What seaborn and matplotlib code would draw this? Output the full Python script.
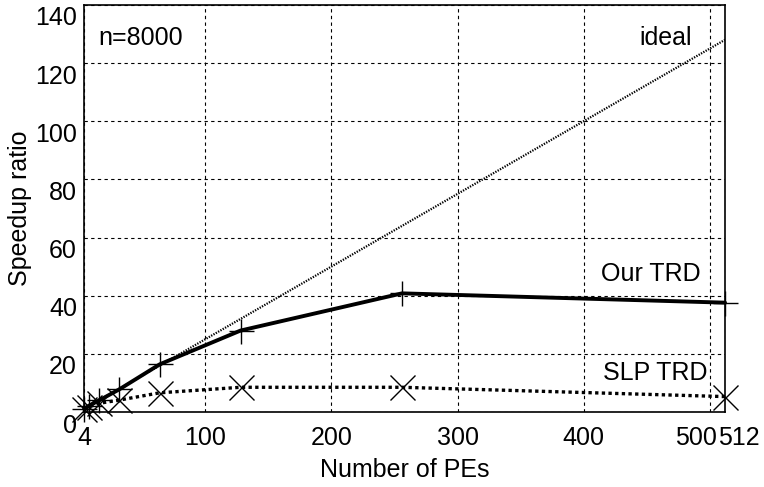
import numpy as np
import pandas as pd
import matplotlib
matplotlib.use("Agg")
import matplotlib.pyplot as plt
import matplotlib.transforms as mtransforms
import seaborn as sns

# data
pes = [4, 8, 16, 32, 64, 128, 256, 512]
our_trd = [1.0, 2.2, 4.0, 7.8, 16.4, 28.0, 40.8, 37.6]
slp_trd = [1.0, 1.8, 3.0, 4.1, 6.6, 8.5, 8.5, 5.3]
ideal_x = [4, 512]
ideal_y = [1, 128]
xticks = [4, 100, 200, 300, 400, 500, 512]
yticks = [0, 20, 40, 60, 80, 100, 120, 140]

sns.set_style("white", {"text.color": "black", "axes.labelcolor": "black",
                        "xtick.color": "black", "ytick.color": "black"})
plt.rcParams['font.family'] = ['Liberation Sans', 'DejaVu Sans']
fs = 18

df_our = pd.DataFrame({"PEs": pes, "speedup": our_trd})
df_slp = pd.DataFrame({"PEs": pes, "speedup": slp_trd})
df_ideal = pd.DataFrame({"PEs": ideal_x, "speedup": ideal_y})

fig = plt.figure(figsize=(7.64, 4.87), dpi=100)
ax = fig.add_axes([0.110, 0.154, 0.839, 0.836])

sns.lineplot(data=df_ideal, x="PEs", y="speedup", ax=ax, color="black",
             linewidth=1.6, linestyle=(0, (0.6, 0.6)))
sns.lineplot(data=df_slp, x="PEs", y="speedup", ax=ax, color="black",
             linewidth=2.4, linestyle=(0, (1, 1)), marker="x",
             markersize=18, markeredgewidth=1, markeredgecolor="black",
             clip_on=False)
sns.lineplot(data=df_our, x="PEs", y="speedup", ax=ax, color="black",
             linewidth=2.8, marker="+", markersize=18, markeredgewidth=1,
             markeredgecolor="black", clip_on=False)

ax.set_xlim(4, 512)
ax.set_ylim(0, 140)
ax.set_xticks(xticks)
ax.set_xticklabels([str(t) for t in xticks])
ax.set_yticks(yticks)
ax.grid(True, color="black", linestyle=(0, (3, 3)), linewidth=0.8)
ax.tick_params(direction="in", length=5, width=1, labelsize=fs,
               colors="black")
ax.tick_params(axis="x", pad=10)
ax.tick_params(axis="y", pad=5)
for s in ax.spines.values():
    s.set_linewidth(1.2)
    s.set_color("black")

# y labels sit a bit below their grid lines, 500/512 pushed apart
down = mtransforms.ScaledTranslation(0, -0.11, fig.dpi_scale_trans)
for lab in ax.get_yticklabels():
    lab.set_transform(lab.get_transform() + down)
xl = ax.get_xticklabels()
xl[5].set_ha("right")
xl[5].set_transform(xl[5].get_transform() + mtransforms.ScaledTranslation(0.07, 0, fig.dpi_scale_trans))
xl[6].set_ha("left")
xl[6].set_transform(xl[6].get_transform() + mtransforms.ScaledTranslation(-0.07, 0, fig.dpi_scale_trans))

ax.set_xlabel("Number of PEs", fontsize=fs, labelpad=6, color="black")
ax.set_ylabel("Speedup ratio", fontsize=fs, labelpad=2, color="black")

ax.text(15, 128.5, "n=8000", fontsize=fs, va="center", ha="left", color="black")
ax.text(486, 128.5, "ideal", fontsize=fs, va="center", ha="right", color="black")
ax.text(493, 47.4, "Our TRD", fontsize=fs, va="center", ha="right", color="black")
ax.text(498, 13.5, "SLP TRD", fontsize=fs, va="center", ha="right", color="black")

fig.savefig("out.png", dpi=100)
